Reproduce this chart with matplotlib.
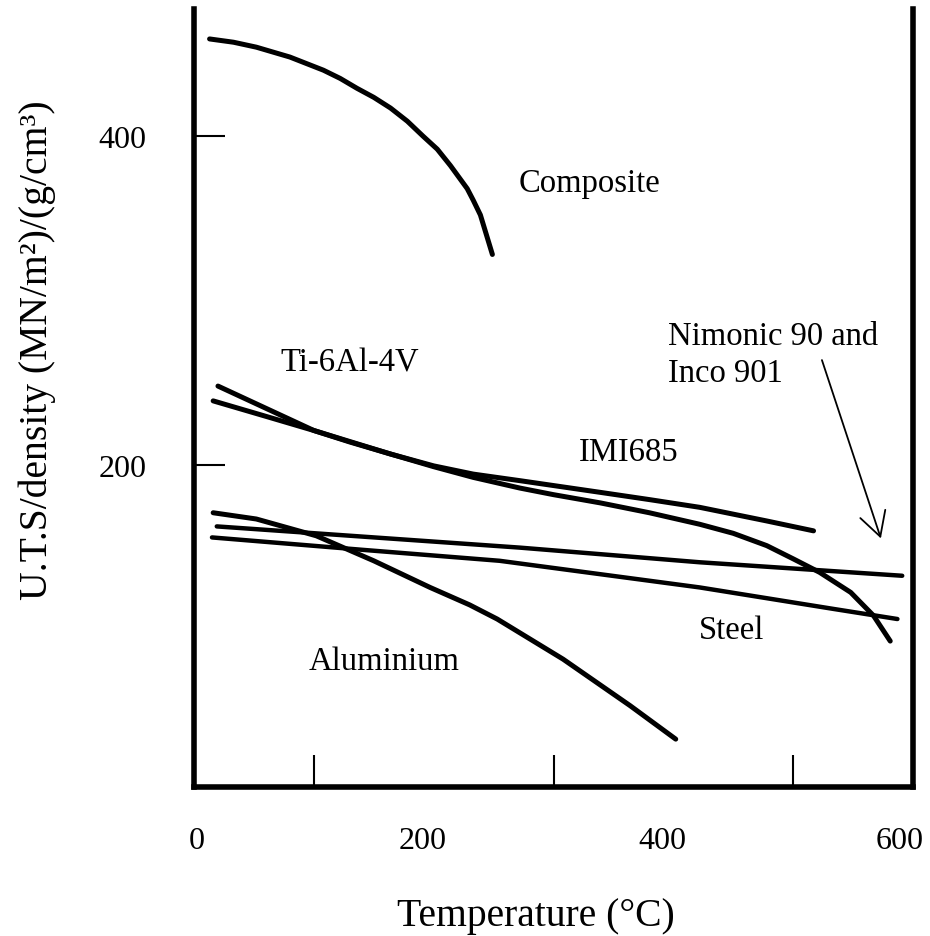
import matplotlib
matplotlib.use("Agg")
import matplotlib.pyplot as plt
from matplotlib.transforms import ScaledTranslation

plt.rcParams["font.family"] = ["Liberation Serif", "DejaVu Serif"]

# curves: temperature (C) vs U.T.S/density
composite_t = [13, 33, 52, 80, 108, 122, 136, 150, 164, 178, 191, 203, 214, 222, 228, 233, 239, 244, 249]
composite_s = [459, 457, 454, 448, 440, 435, 429, 423.5, 417, 409, 400, 392, 382, 374, 368, 361, 352, 340, 328]

ti_a_t = [20, 60, 100, 130, 164, 200, 233, 272, 300, 339, 380, 422, 450, 478, 500, 522, 548, 567, 581]
ti_a_s = [248, 234.5, 221, 214, 206.7, 199, 192.5, 186, 182, 177, 171, 164, 158.5, 151, 143, 134.8, 122.6, 108.5, 93]

ti_b_t = [16, 60, 100, 164, 200, 233, 272, 339, 380, 422, 478, 517]
ti_b_s = [239, 229.6, 221, 206.7, 199.5, 194.5, 190.5, 183.4, 179, 174.3, 166, 160]

flat_t = [19, 272, 422, 591]
flat_s = [162.7, 149.8, 140.9, 132.7]

steel_t = [15, 140, 255, 422, 534, 587]
steel_s = [156, 148.5, 141.8, 125.6, 112.5, 106.4]

alu_t = [16, 52, 102, 150, 197, 230, 253, 308, 364, 402]
alu_s = [171, 167.2, 157, 141.8, 125.6, 115, 106.4, 82, 53.7, 33.4]

x_labels = ["0", "200", "400", "600"]
x_label_pos = [0, 200, 400, 600]
x_label_shift = [3, -11, -11, -13]  # px, labels sit left of their ticks
x_minor = [100, 200, 300, 400, 500]
y_ticks = [200, 400]

# text labels (left, baseline) in data units
labels = [
    ("Composite", 270.5, 366.6),
    ("Ti-6Al-4V", 71.8, 257.3),
    ("IMI685", 320.8, 203.2),
    ("Nimonic 90 and\nInco 901", 395.9, 251.2),
    ("Steel", 421, 94.8),
    ("Aluminium", 95.4, 76),
]
arrow_from = (524, 263.8)
arrow_to = (573.2, 155.4)

fig = plt.figure(figsize=(9.3, 9.37), dpi=100)
ax = fig.add_axes([194 / 930, 149 / 937, 719 / 930, 778 / 937])

lw = 3.6
ax.plot(composite_t, composite_s, color="black", lw=lw, solid_capstyle="round", solid_joinstyle="round")
ax.plot(ti_a_t, ti_a_s, color="black", lw=lw, solid_capstyle="round", solid_joinstyle="round")
ax.plot(ti_b_t, ti_b_s, color="black", lw=lw, solid_capstyle="round", solid_joinstyle="round")
ax.plot(flat_t, flat_s, color="black", lw=3.2, solid_capstyle="round", solid_joinstyle="round")
ax.plot(steel_t, steel_s, color="black", lw=3.2, solid_capstyle="round", solid_joinstyle="round")
ax.plot(alu_t, alu_s, color="black", lw=lw, solid_capstyle="round", solid_joinstyle="round")

for txt, x, y in labels:
    ax.text(x, y, txt, fontsize=23.5, ha="left", va="baseline", linespacing=1.25)

ax.annotate("", xy=arrow_to, xytext=arrow_from,
            arrowprops=dict(arrowstyle="->,head_length=0.4,head_width=0.22",
                            lw=1.3, color="black", mutation_scale=43,
                            shrinkA=0, shrinkB=0))

ax.set_xlim(0, 600)
ax.set_ylim(4.3, 477.2)

ax.spines["top"].set_visible(False)
for s in ["left", "right", "bottom"]:
    ax.spines[s].set_linewidth(4)

ax.set_xticks(x_label_pos, x_labels)
ax.set_xticks(x_minor, minor=True)
ax.set_yticks(y_ticks, [str(v) for v in y_ticks])
ax.tick_params(axis="x", which="major", length=0, pad=28, labelsize=23)
ax.tick_params(axis="x", which="minor", direction="in", length=23, width=1.5)
ax.tick_params(axis="y", which="major", direction="in", length=22, width=1.5,
               pad=34, labelsize=23)
ax.tick_params(axis="y", which="minor", left=False)

for lab, dx in zip(ax.get_xticklabels(), x_label_shift):
    lab.set_transform(lab.get_transform() + ScaledTranslation(dx / 100, 0, fig.dpi_scale_trans))

ax.set_xlabel("Temperature (°C)", fontsize=28.5)
ax.xaxis.set_label_coords(0.476, -0.142)
ax.set_ylabel("U.T.S/density (MN/m²)/(g/cm³)", fontsize=28.5)
ax.yaxis.set_label_coords(-0.192, 0.563)

fig.savefig("out.png", dpi=100)
